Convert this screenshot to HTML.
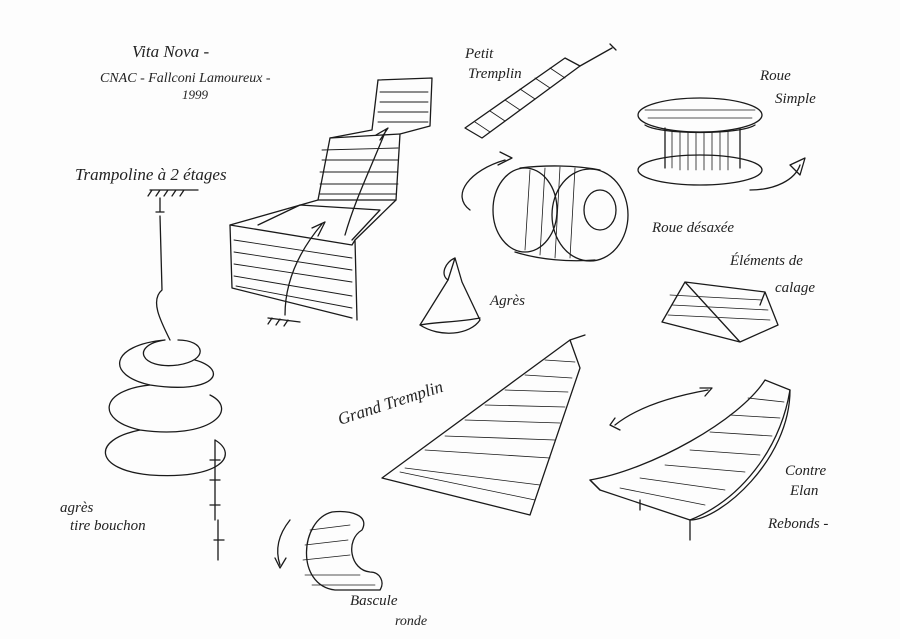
<!DOCTYPE html>
<html><head><meta charset="utf-8"><style>
html,body{margin:0;padding:0;background:#fff}
svg{display:block}
text{font-family:"Liberation Serif",serif;font-style:italic;fill:#222}
</style></head><body>
<svg width="900" height="639" viewBox="0 0 900 639" xmlns="http://www.w3.org/2000/svg">
<rect width="900" height="639" fill="#fdfdfd"/>
<g fill="none" stroke="#1a1a1a" stroke-width="1.3" stroke-linecap="round" stroke-linejoin="round">
<!-- Trampoline 2 etages -->
<path d="M378 80 L432 78 L430 126 L400 134 L396 200 L355 240 L357 320"/>
<path d="M378 80 L372 130 L330 138 L318 200 L230 225 L232 288 L352 318"/>
<path d="M330 138 L400 134"/><path d="M318 200 L396 200"/>
<path d="M230 225 L352 245 L355 240"/>
<path d="M258 225 L300 205 L380 210 L352 240"/>
<g stroke-width="0.9">
<path d="M380 92 L428 92 M380 102 L428 102 M378 112 L428 112 M378 122 L428 122"/>
<path d="M322 150 L398 148 M322 160 L398 160 M320 172 L398 172 M320 184 L398 184 M320 194 L396 194"/>
<path d="M234 240 L352 258 M234 252 L352 270 M234 264 L352 282 M234 276 L352 296 M236 286 L352 308"/>
</g>
<path d="M285 315 C285 280 300 250 322 224 M318 236 L325 222 L312 228"/>
<path d="M345 235 C355 200 370 170 386 130 M380 140 L388 128 L376 135"/>
<path d="M268 318 L300 322 M272 318 L268 324 M280 319 L276 325 M288 320 L284 326"/>
<!-- tire bouchon -->
<path d="M150 190 L198 190 M152 190 L148 196 M160 190 L156 196 M168 190 L164 196 M176 190 L172 196 M184 190 L180 196"/>
<path d="M160 198 L160 212 M156 212 L164 212 M160 216 L162 290 C150 300 160 320 170 340"/>
<path d="M178 340 C205 340 210 360 178 365 C140 370 130 345 165 340 C110 345 105 375 150 385 C215 395 230 370 195 360"/>
<path d="M150 385 C100 390 95 420 140 430 C210 440 240 410 210 395"/>
<path d="M140 430 C90 440 95 470 150 475 C220 480 240 455 215 440"/>
<path d="M215 440 L215 520 M210 460 L220 460 M210 480 L220 480 M210 505 L220 505 M218 520 L218 560 M214 540 L224 540"/>
<!-- petit tremplin -->
<path d="M465 128 L565 58 L580 66 L482 138 Z"/>
<path d="M580 66 L612 48 M610 44 L616 50" />
<g stroke-width="0.8"><path d="M475 122 L490 132 M490 111 L505 121 M505 100 L520 110 M520 89 L535 99 M535 78 L550 88 M550 68 L565 78"/></g>
<!-- roue simple -->
<ellipse cx="700" cy="115" rx="62" ry="17"/>
<ellipse cx="700" cy="170" rx="62" ry="15"/>
<path d="M645 125 C660 135 740 135 755 125"/>
<path d="M665 128 L665 168 M740 128 L740 168"/>
<g stroke-width="0.8"><path d="M672 130 L672 168 M680 132 L680 170 M688 132 L688 170 M696 132 L696 170 M704 132 L704 170 M712 132 L712 170 M720 132 L720 170 M728 131 L728 170 M645 110 L755 110 M648 118 L752 118"/></g>
<path d="M750 190 C775 190 795 180 800 165 M790 165 L805 158 L800 175 Z"/>
<!-- roue desaxee -->
<ellipse cx="525" cy="210" rx="32" ry="42"/>
<ellipse cx="590" cy="215" rx="38" ry="46"/>
<path d="M520 168 C545 165 575 165 600 170 M515 252 C540 260 570 262 595 260"/>
<ellipse cx="600" cy="210" rx="16" ry="20"/>
<g stroke-width="0.8"><path d="M530 170 L525 250 M545 168 L540 255 M560 167 L555 258 M575 168 L570 258"/></g>
<path d="M470 210 C450 195 470 170 505 160 M500 152 L512 158 L498 165"/>
<!-- agres -->
<path d="M455 258 L448 280 L420 325 C440 338 470 335 480 320 L462 282 L455 258"/>
<path d="M448 280 C440 275 445 262 455 258"/>
<path d="M420 325 C435 322 460 322 480 318"/>
<!-- elements de calage -->
<path d="M662 322 L685 282 L765 292 L778 325 M685 282 L740 342 L778 325 M662 322 L740 342 M765 292 L760 305"/>
<g stroke-width="0.8"><path d="M670 295 L762 300 M672 305 L768 310 M668 315 L770 320"/></g>
<!-- grand tremplin -->
<path d="M382 478 L570 340 L580 368 L530 515 Z"/>
<path d="M570 340 L585 335"/>
<g stroke-width="0.8"><path d="M405 468 L540 485 M425 450 L550 458 M445 436 L555 440 M465 420 L560 423 M485 405 L565 407 M505 390 L568 392 M525 375 L572 378 M545 360 L575 362 M400 472 L535 500"/></g>
<!-- contre elan -->
<path d="M590 480 C650 470 740 420 765 380 L790 390 C780 450 740 500 690 520 L600 490 Z"/>
<path d="M600 490 L590 480 M690 520 L690 540 M640 500 L640 510"/>
<path d="M690 520 C720 520 790 460 790 390"/>
<g stroke-width="0.8"><path d="M620 488 L705 505 M640 478 L725 490 M665 465 L745 472 M690 450 L760 455 M710 432 L772 436 M730 415 L780 418 M748 398 L784 402"/></g>
<path d="M615 425 C640 405 680 395 708 390 M700 388 L712 388 L705 396 M615 418 L610 425 L620 430"/>
<!-- bascule ronde -->
<path d="M332 512 C300 520 295 585 335 590 L380 590 C385 582 380 572 370 572 C350 570 345 540 362 530 C370 515 350 510 332 512 Z"/>
<g stroke-width="0.8"><path d="M310 530 L350 525 M305 545 L348 540 M303 560 L350 555 M305 575 L360 575 M312 585 L375 585"/></g>
<path d="M290 520 C278 535 275 550 280 565 M275 558 L280 568 L286 558"/>
</g>
<g font-size="17">
<text x="132" y="57">Vita Nova -</text>
<text x="100" y="82" font-size="14">CNAC - Fallconi Lamoureux -</text>
<text x="182" y="99" font-size="13">1999</text>
<text x="75" y="180">Trampoline à 2 étages</text>
<text x="465" y="58" font-size="15">Petit</text>
<text x="468" y="78" font-size="15">Tremplin</text>
<text x="760" y="80" font-size="15">Roue</text>
<text x="775" y="103" font-size="15">Simple</text>
<text x="652" y="232" font-size="15">Roue désaxée</text>
<text x="730" y="265" font-size="15">Éléments de</text>
<text x="775" y="292" font-size="15">calage</text>
<text x="490" y="305" font-size="15">Agrès</text>
<text x="340" y="425" font-size="17" transform="rotate(-18 340 425)">Grand Tremplin</text>
<text x="785" y="475" font-size="15">Contre</text>
<text x="790" y="495" font-size="15">Elan</text>
<text x="768" y="528" font-size="15">Rebonds -</text>
<text x="60" y="512" font-size="15">agrès</text>
<text x="70" y="530" font-size="15">tire bouchon</text>
<text x="350" y="605" font-size="15">Bascule</text>
<text x="395" y="625" font-size="14">ronde</text>
</g>
</svg>
</body></html>
